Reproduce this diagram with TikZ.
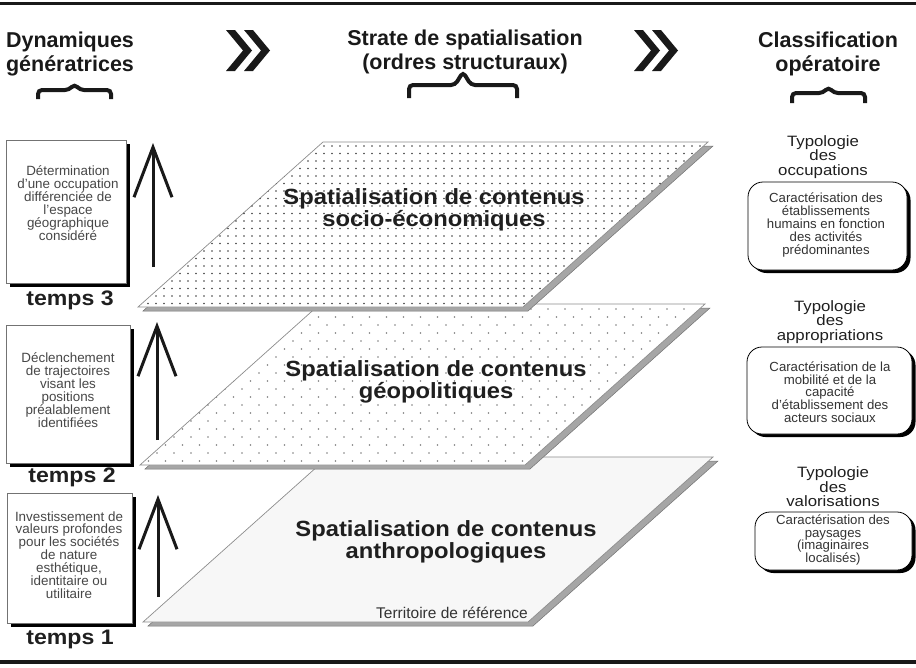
\documentclass[tikz,border=0pt]{standalone}
\usepackage{fontspec}
\setmainfont{Liberation Sans}
\newfontfamily\widesans[FakeStretch=1.12]{Liberation Sans}
\newfontfamily\titlefont[FakeStretch=1.08]{Liberation Sans}
\newfontfamily\tempsfont[FakeStretch=1.1]{Liberation Sans}
\usetikzlibrary{arrows.meta,shadows}
\begin{document}
\begin{tikzpicture}[x=1pt,y=-1pt,
  heading/.style={font=\fontsize{21.5}{23.5}\selectfont\bfseries, align=center, text=black!90, inner sep=0pt},
  layertitle/.style={font=\titlefont\fontsize{22}{20}\selectfont\bfseries, align=center, text=black!88, inner sep=0pt},
  lefttext/.style={font=\fontsize{13.4}{12.9}\selectfont, align=center, text=black!72, inner sep=0pt},
  tempslabel/.style={font=\tempsfont\fontsize{21}{23}\selectfont\bfseries, text=black!88, inner sep=0pt},
  typolabel/.style={font=\widesans\fontsize{15}{14.5}\selectfont, align=center, text=black!88, inner sep=0pt},
  boxtext/.style={font=\fontsize{13.2}{12.8}\selectfont, align=center, text=black!80, inner sep=0pt},
  leftbox/.style={draw=black!55, line width=0.8pt, fill=white,
     general shadow={fill=black, shadow xshift=3.5pt, shadow yshift=-3.5pt}},
  roundbox/.style={draw=black, line width=0.8pt, fill=white, rounded corners=15pt,
     general shadow={fill=black, shadow xshift=3.5pt, shadow yshift=-3pt}},
  bigarrow/.style={line width=3pt, black!90, -{Straight Barb[length=50pt,width=38pt]}},
  bracestyle/.style={line width=4pt, black!90, rounded corners=4pt},
  chevron/.style={fill=black!90},
  layeredge/.style={draw=black!45, line width=0.7pt},
  layershadow/.style={fill=black!35, draw=black!55, line width=0.5pt}
]
\useasboundingbox (0,0) rectangle (916,667);

% rules
\draw[line width=3.5pt, black!90] (0,3.5) -- (916,3.5);
\draw[line width=4pt, black!90] (0,662) -- (916,662);

% headings
\node[heading] (h1) at (70,54) {Dynamiques\\génératrices};
\node[heading] (h2) at (465,52) {Strate de spatialisation\\(ordres structuraux)};
\node[heading] (h3) at (828,54) {Classification\\opératoire};

% chevrons
\fill[chevron] (226,30) -- (235,30) -- (252,50.5) -- (235,71) -- (226,71) -- (243,50.5) -- cycle;
\fill[chevron] (244,30) -- (253,30) -- (270,50.5) -- (253,71) -- (244,71) -- (261,50.5) -- cycle;
\fill[chevron] (634,30) -- (643,30) -- (660,50.5) -- (643,71) -- (634,71) -- (651,50.5) -- cycle;
\fill[chevron] (652,30) -- (661,30) -- (678,50.5) -- (661,71) -- (652,71) -- (669,50.5) -- cycle;

% braces
\draw[bracestyle] (38,99) -- (38,90) -- (69,90) -- (74.5,84) -- (80,90) -- (111,90) -- (111,99);
\draw[bracestyle] (409,98) -- (409,85) -- (455,85) -- (463,72) -- (471,85) -- (517,85) -- (517,98);
\draw[bracestyle] (792,103) -- (792,93) -- (823,93) -- (828.5,87) -- (834,93) -- (865,93) -- (865,103);

% ---------- layers ----------
% bottom layer
\fill[layershadow] (148,626) -- (533,626) -- (718,461) -- (333,461) -- cycle;
\path[layeredge, fill=black!3] (143,622) -- (528,622) -- (713,457) -- (328,457) -- cycle;
\node[layertitle] (l1) at (446,542) {Spatialisation de contenus\\anthropologiques};
\node[font=\fontsize{15.5}{17}\selectfont, text=black!80, inner sep=0pt] (terr) at (452,613) {Territoire de référence};

% middle layer
\fill[layershadow] (145,469) -- (530,469) -- (710,308) -- (325,308) -- cycle;
\path[layeredge, fill=white] (140,465) -- (525,465) -- (705,304) -- (320,304) -- cycle;
\begin{scope}
  \clip (140,465) -- (525,465) -- (705,304) -- (320,304) -- cycle;
  \foreach \r in {0,...,20} {
    \pgfmathsetmacro{\yy}{309+8*\r}
    \pgfmathsetmacro{\off}{mod(\r,2)*8.5}
    \foreach \c in {0,...,34} {
      \fill[black!50] (140+\off+17*\c,\yy) circle (0.85);
    }
  }
\end{scope}
\node[layertitle] (l2) at (436,382) {Spatialisation de contenus\\géopolitiques};

% top layer
\fill[layershadow] (143,311) -- (528,311) -- (713,146) -- (328,146) -- cycle;
\path[layeredge, fill=white] (138,307) -- (523,307) -- (708,142) -- (323,142) -- cycle;
\begin{scope}
  \clip (138,307) -- (523,307) -- (708,142) -- (323,142) -- cycle;
  \foreach \r in {0,...,21} {
    \pgfmathsetmacro{\yy}{146+7.5*\r}
    \foreach \c in {0,...,71} {
      \fill[black!75] (140+8*\c,\yy) circle (0.85);
    }
  }
\end{scope}
\node[layertitle] (l3) at (434,210) {Spatialisation de contenus\\socio-économiques};

% ---------- left column ----------
\node[leftbox, minimum width=120pt, minimum height=143pt, inner sep=0pt] (b3) at (66,211.5) {};
\node[lefttext] (t3) at (68,203) {Détermination\\d'une occupation\\différenciée de\\l'espace\\géographique\\considéré};
\node[tempslabel] (tp3) at (70,300) {temps 3};
\coordinate (a3s) at (153,267);
\coordinate (a3e) at (153,143);
\draw[bigarrow] (a3s) -- (a3e);

\node[leftbox, minimum width=124pt, minimum height=138pt, inner sep=0pt] (b2) at (68,394) {};
\node[lefttext] (t2) at (68,390) {Déclenchement\\de trajectoires\\visant les\\positions\\préalablement\\identifiées};
\node[tempslabel] (tp2) at (72,477) {temps 2};
\coordinate (a2s) at (157,440);
\coordinate (a2e) at (157,322);
\draw[bigarrow] (a2s) -- (a2e);

\node[leftbox, minimum width=125pt, minimum height=130pt, inner sep=0pt] (b1) at (69.5,558) {};
\node[lefttext] (t1) at (69,555) {Investissement de\\valeurs profondes\\pour les sociétés\\de nature\\esthétique,\\identitaire ou\\utilitaire};
\node[tempslabel] (tp1) at (70,639) {temps 1};
\coordinate (a1s) at (158,597);
\coordinate (a1e) at (158,495);
\draw[bigarrow] (a1s) -- (a1e);

% ---------- right column ----------
\node[typolabel] (ty1) at (823,157) {Typologie\\des\\occupations};
\node[roundbox, minimum width=159pt, minimum height=88pt, inner sep=0pt] (r1) at (827.5,226) {};
\node[boxtext] (rt1) at (826,225) {Caractérisation des\\établissements\\humains en fonction\\des activités\\prédominantes};

\node[typolabel] (ty2) at (830,322) {Typologie\\des\\appropriations};
\node[roundbox, minimum width=165pt, minimum height=87pt, inner sep=0pt] (r2) at (829.5,390.5) {};
\node[boxtext] (rt2) at (830,392) {Caractérisation de la\\mobilité et de la\\capacité\\d'établissement des\\acteurs sociaux};

\node[typolabel] (ty3) at (833,487) {Typologie\\des\\valorisations};
\node[roundbox, minimum width=157pt, minimum height=58pt, inner sep=0pt] (r3) at (833.5,541) {};
\node[boxtext] (rt3) at (833,540) {Caractérisation des\\paysages\\(imaginaires\\localisés)};
\end{tikzpicture}
\end{document}
